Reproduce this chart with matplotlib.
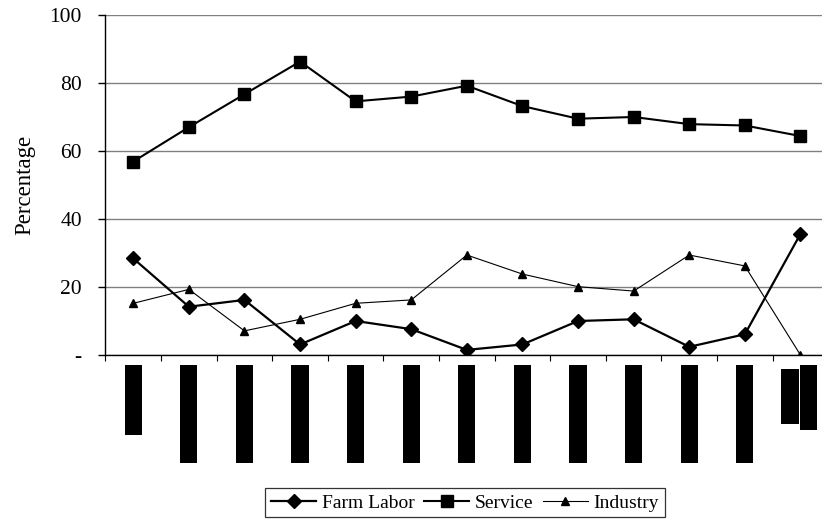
import numpy as np
import matplotlib
matplotlib.use("Agg")
import matplotlib.pyplot as plt

# share of employment by sector, 13 periods
farm_labor = [28.4, 14.2, 16.2, 3.1, 10.0, 7.6, 1.5, 3.1, 10.0, 10.5, 2.4, 6.1, 35.6]
service = [56.9, 67.0, 76.7, 86.3, 74.6, 76.0, 79.2, 73.2, 69.5, 70.0, 67.9, 67.5, 64.4]
industry = [15.2, 19.3, 7.1, 10.5, 15.2, 16.2, 29.4, 23.8, 20.1, 18.8, 29.4, 26.2, 0.0]

# category label blocks under the axis (top, bottom in axis units)
label_top = [-2.9] * 12 + [-4.1, -2.9]
label_bottom = [-23.5] + [-31.8] * 11 + [-20.3, -22.1]
label_offset = [0.0] * 12 + [-0.19, 0.15]
label_cat = list(range(12)) + [12, 12]

y_ticks = [0, 20, 40, 60, 80, 100]
y_ticklabels = ["-", "20", "40", "60", "80", "100"]

plt.rcParams["font.family"] = ["Liberation Serif", "DejaVu Serif"]
plt.rcParams["font.size"] = 14

fig = plt.figure(figsize=(8.22, 5.26), dpi=100)
ax = fig.add_axes([0.1283, 0.3251, 0.8793, 0.6464])

x = np.arange(len(service))
ax.plot(x, farm_labor, "-D", color="black", lw=1.6, ms=7.5, label="Farm Labor", zorder=3)
ax.plot(x, service, "-s", color="black", lw=1.5, ms=8.5, label="Service", zorder=3)
ax.plot(x, industry, "-^", color="black", lw=0.8, ms=6, label="Industry", zorder=3)

# black label blocks, drawn outside the data area
xs = np.array(label_cat) + np.array(label_offset)
heights = np.array(label_bottom) - np.array(label_top)
ax.bar(xs, heights, bottom=label_top, width=0.31, color="black", clip_on=False)

ax.set_xlim(-0.5, 12.5)
ax.set_ylim(0, 100)
ax.set_yticks(y_ticks)
ax.set_yticklabels(y_ticklabels, fontsize=15.5)
ax.set_xticks(np.arange(-0.5, 13, 1.0))
ax.set_xticklabels([])
ax.tick_params(axis="y", direction="out", length=5, width=1, pad=12)
ax.tick_params(axis="x", direction="out", length=4, width=0.8)
ax.grid(axis="y", color="#808080", lw=1)
ax.set_axisbelow(True)
for s in ("top", "right"):
    ax.spines[s].set_visible(False)
for s in ("left", "bottom"):
    ax.spines[s].set_linewidth(1)
ax.set_ylabel("Percentage", fontsize=16.5, labelpad=10)

leg = fig.legend(loc="center", bbox_to_anchor=(0.566, 0.044), ncol=3, frameon=True,
                 fancybox=False, edgecolor="black", handlelength=2.3, handletextpad=0.3,
                 columnspacing=0.5, borderpad=0.3, borderaxespad=0)
leg.get_frame().set_linewidth(0.9)

fig.savefig("out.png", dpi=100)
